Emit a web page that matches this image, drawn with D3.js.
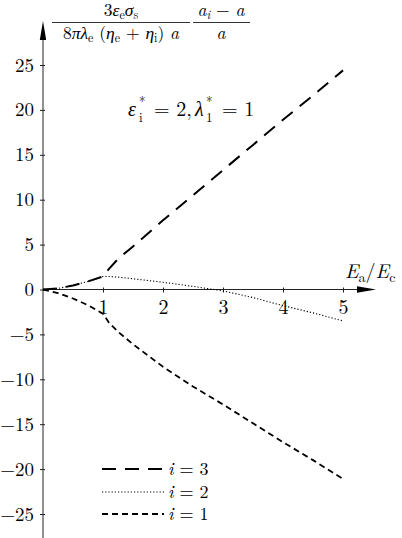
<!DOCTYPE html>
<html>
<head>
<meta charset="utf-8">
<style>
body { margin: 0; background: #fff; }
</style>
</head>
<body>
<div id="chart"></div>
<script src="https://d3js.org/d3.v7.min.js"></script>
<script>
// E_a / E_c
var xs = [0, 0.25, 0.5, 0.75, 1, 1.1, 1.25, 1.5, 2, 2.5, 3, 3.5, 4, 4.5, 5];
// i = 3, 2, 1
var series3 = [0, 0.12, 0.45, 0.9, 1.45, 2.3, 3.4, 4.8, 7.7, 10.5, 13.3, 16.1, 18.9, 21.6, 24.4];
var series2 = [0, 0.12, 0.45, 0.9, 1.45, 1.45, 1.38, 1.2, 0.8, 0.35, -0.15, -0.9, -1.8, -2.6, -3.5];
var series1 = [0, -0.4, -1.0, -1.75, -2.7, -3.7, -4.7, -6.1, -8.6, -10.8, -12.8, -14.9, -17.0, -19.0, -21.1];
var xTicks = [1, 2, 3, 4, 5];
var yTicks = [-25, -20, -15, -10, -5, 0, 5, 10, 15, 20, 25];
var legendNames = ["3", "2", "1"];

var width = 402, height = 538;
var serif = "'Latin Modern Roman', 'Liberation Serif', serif";

var svg = d3.select("#chart").append("svg")
    .attr("width", width)
    .attr("height", height);

var x = d3.scaleLinear().domain([0, 5]).range([43, 343]);
var y = d3.scaleLinear().domain([-25, 25]).range([514, 65]);

// y axis
var gy = svg.append("g")
    .attr("transform", "translate(" + x(0) + ",0)")
    .call(d3.axisLeft(y).tickValues(yTicks).tickSize(3).tickPadding(6).tickFormat(d3.format("d")));
gy.select(".domain").remove();
gy.selectAll(".tick line").attr("x1", 2).attr("stroke", "#222");
gy.attr("font-size", 19);

// x axis
var gx = svg.append("g")
    .attr("transform", "translate(0," + y(0) + ")")
    .call(d3.axisBottom(x).tickValues(xTicks).tickSize(3).tickPadding(7).tickFormat(d3.format("d")));
gx.select(".domain").remove();
gx.selectAll(".tick line").attr("y1", -2).attr("stroke", "#222");
gx.attr("font-size", 20);

// axis lines with arrows
svg.append("line")
    .attr("x1", x(0)).attr("x2", x(0))
    .attr("y1", height).attr("y2", 36)
    .attr("stroke", "#222").attr("stroke-width", 1);
svg.append("path")
    .attr("d", "M" + x(0) + ",21 L" + (x(0) - 3.2) + ",40 L" + (x(0) + 3.2) + ",40 Z")
    .attr("fill", "#000");
svg.append("line")
    .attr("x1", x(0)).attr("x2", 362)
    .attr("y1", y(0)).attr("y2", y(0))
    .attr("stroke", "#222").attr("stroke-width", 1);
svg.append("path")
    .attr("d", "M376," + y(0) + " L357," + (y(0) - 3.2) + " L357," + (y(0) + 3.2) + " Z")
    .attr("fill", "#000");

// curves
var line = d3.line()
    .x(function(d, i) { return x(xs[i]); })
    .y(function(d) { return y(d); });

var styles = [
    { data: series3, dash: "14,9", w: 2 },
    { data: series2, dash: "1.2,2", w: 1.1 },
    { data: series1, dash: "6,4", w: 1.8 }
];

styles.forEach(function(s) {
    svg.append("path")
        .attr("d", line(s.data))
        .attr("fill", "none")
        .attr("stroke", "#000")
        .attr("stroke-width", s.w)
        .attr("stroke-dasharray", s.dash);
});

// legend
var legendY = [469, 492, 514];
styles.forEach(function(s, i) {
    svg.append("line")
        .attr("x1", 102).attr("x2", 164)
        .attr("y1", legendY[i]).attr("y2", legendY[i])
        .attr("stroke", "#000")
        .attr("stroke-width", s.w)
        .attr("stroke-dasharray", s.dash);
    var t = svg.append("text")
        .attr("x", 168).attr("y", legendY[i] + 6)
        .attr("font-size", 18);
    t.append("tspan").attr("font-style", "italic").text("i");
    t.append("tspan").text(" = " + legendNames[i]);
});

// x label
var xl = svg.append("text").attr("x", 345).attr("y", 278).attr("font-size", 20);
xl.append("tspan").attr("font-style", "italic").text("E");
xl.append("tspan").attr("font-size", 14).attr("dy", 4).text("a");
xl.append("tspan").attr("dy", -4).text("/");
xl.append("tspan").attr("font-style", "italic").text("E");
xl.append("tspan").attr("font-size", 14).attr("dy", 4).text("c");

// annotation: symbol with stacked super/subscript
function starSym(xp, sym, sub) {
    svg.append("text").attr("x", xp).attr("y", 116).attr("font-size", 20)
        .attr("font-style", "italic").text(sym);
    svg.append("text").attr("x", xp + 11).attr("y", 106).attr("font-size", 13).text("*");
    svg.append("text").attr("x", xp + 11).attr("y", 122).attr("font-size", 13).text(sub);
}
starSym(128, "ε", "i");
svg.append("text").attr("x", 154).attr("y", 116).attr("font-size", 20).text("= 2,");
starSym(195, "λ", "1");
svg.append("text").attr("x", 222).attr("y", 116).attr("font-size", 20).text("= 1");

// y label: two fractions
svg.append("line").attr("x1", 52).attr("x2", 190).attr("y1", 22.5).attr("y2", 22.5)
    .attr("stroke", "#000").attr("stroke-width", 0.8);
svg.append("line").attr("x1", 193).attr("x2", 250).attr("y1", 22.5).attr("y2", 22.5)
    .attr("stroke", "#000").attr("stroke-width", 0.8);

var n1 = svg.append("text").attr("x", 121).attr("y", 16).attr("font-size", 17.5)
    .attr("text-anchor", "middle");
n1.append("tspan").text("3");
n1.append("tspan").attr("font-style", "italic").text("ε");
n1.append("tspan").attr("font-size", 12).attr("dy", 3).text("e");
n1.append("tspan").attr("font-style", "italic").attr("dy", -3).text("σ");
n1.append("tspan").attr("font-size", 12).attr("dy", 3).text("s");

var d1 = svg.append("text").attr("x", 121).attr("y", 39).attr("font-size", 17.5)
    .attr("text-anchor", "middle");
d1.append("tspan").text("8");
d1.append("tspan").attr("font-style", "italic").text("πλ");
d1.append("tspan").attr("font-size", 12).attr("dy", 3).text("e");
d1.append("tspan").attr("dy", -3).text(" (");
d1.append("tspan").attr("font-style", "italic").text("η");
d1.append("tspan").attr("font-size", 12).attr("dy", 3).text("e");
d1.append("tspan").attr("dy", -3).text(" + ");
d1.append("tspan").attr("font-style", "italic").text("η");
d1.append("tspan").attr("font-size", 12).attr("dy", 3).text("i");
d1.append("tspan").attr("dy", -3).text(") ");
d1.append("tspan").attr("font-style", "italic").text("a");

var n2 = svg.append("text").attr("x", 221).attr("y", 16).attr("font-size", 17.5)
    .attr("text-anchor", "middle");
n2.append("tspan").attr("font-style", "italic").text("a");
n2.append("tspan").attr("font-size", 12).attr("font-style", "italic").attr("dy", 3).text("i");
n2.append("tspan").attr("dy", -3).text(" − ");
n2.append("tspan").attr("font-style", "italic").text("a");

svg.append("text").attr("x", 221).attr("y", 39).attr("font-size", 17.5)
    .attr("text-anchor", "middle").attr("font-style", "italic").text("a");

// all text in a serif face
svg.selectAll("text").style("font-family", serif).style("fill", "#000");
</script>
</body>
</html>
